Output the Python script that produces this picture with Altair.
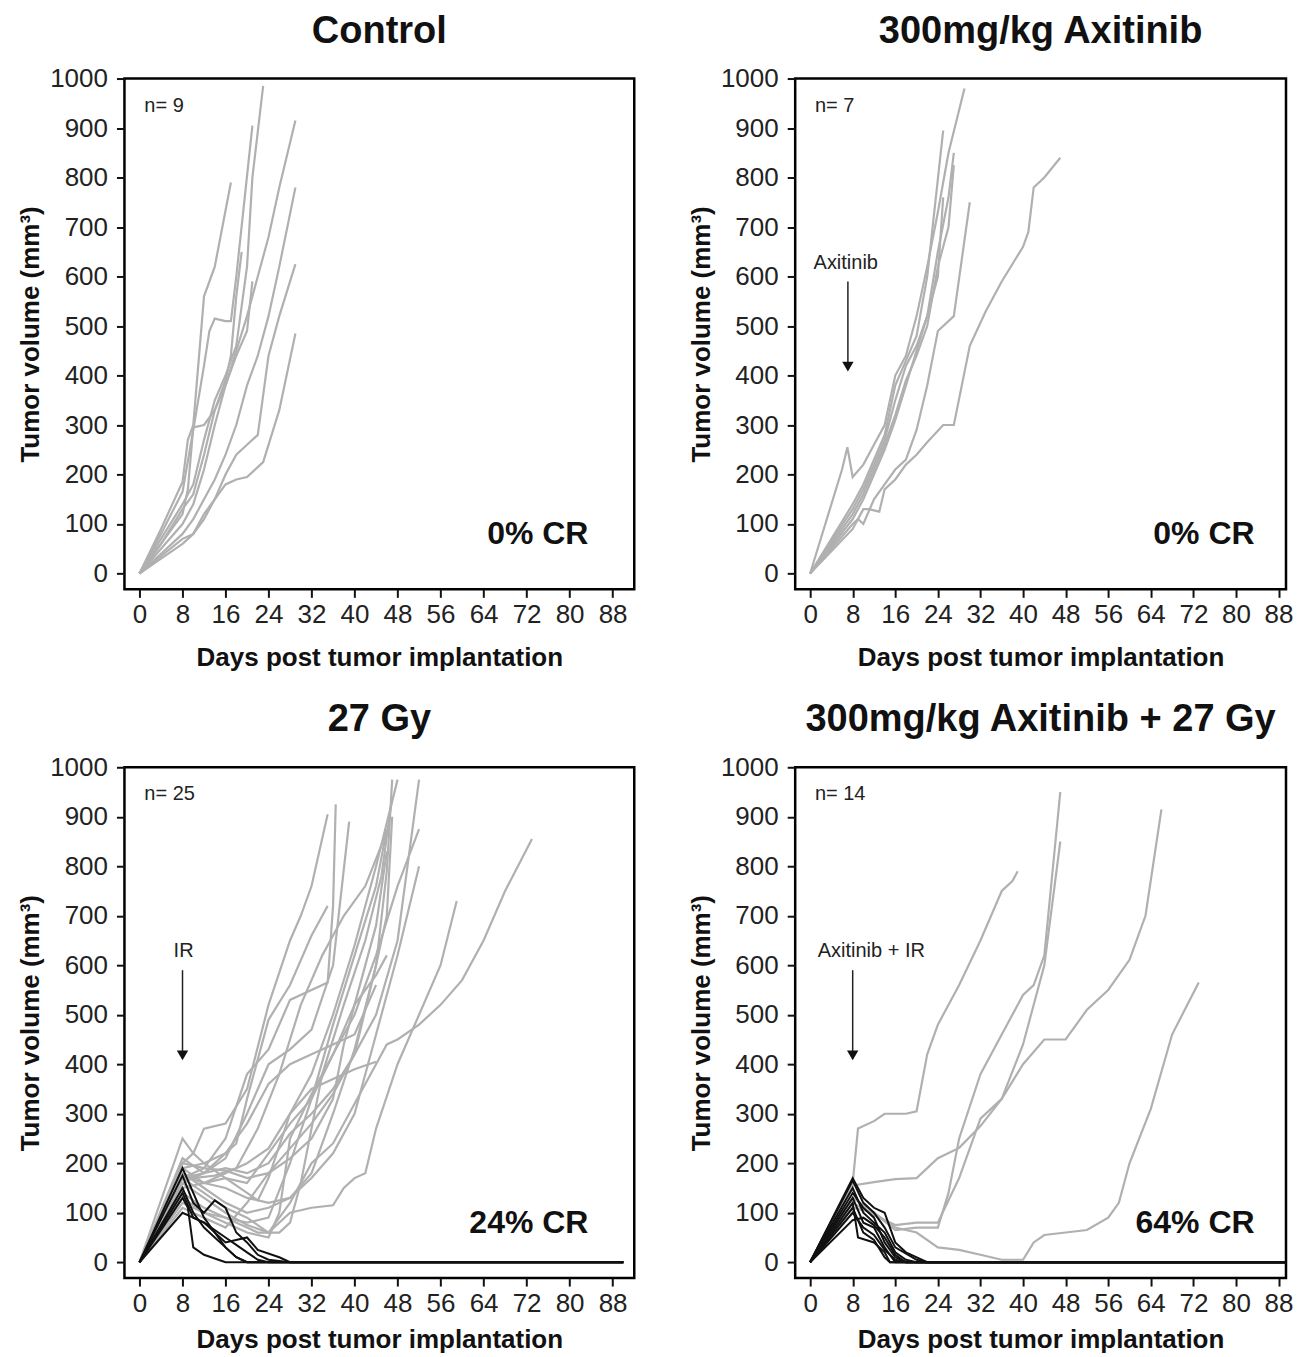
import altair as alt
import pandas as pd

FONT = "Liberation Sans"
GRAY = "#b0b0b0"
BLACK = "#111111"

PANEL_TITLES = ["Control", "300mg/kg Axitinib", "27 Gy", "300mg/kg Axitinib + 27 Gy"]
N_LABELS = ["n= 9", "n= 7", "n= 25", "n= 14"]
CR_LABELS = ["0% CR", "0% CR", "24% CR", "64% CR"]
ARROW_LABELS = [None, "Axitinib", "IR", "Axitinib + IR"]
ARROW_TEXT_DAY = [None, 6.7, 8.2, 11.5]
ARROW_DAY = [None, 7.1, 8.0, 8.0]
X_TICKS = list(range(0, 89, 8))
Y_TICKS = list(range(0, 1001, 100))

# ---------------- Control (all progressing) ----------------
CONTROL_DAYS = [
    [0, 4, 8, 9, 10, 12, 14, 17],
    [0, 4, 8, 10, 12, 13, 14, 16, 17, 18, 21],
    [0, 4, 8, 10, 12, 14, 16, 18, 20, 21, 23],
    [0, 4, 8, 9, 10, 12, 14, 16, 18, 20, 21],
    [0, 4, 8, 10, 12, 14, 16, 18, 20, 22, 24, 26, 29],
    [0, 4, 8, 10, 12, 14, 16, 18, 20, 22, 24, 26, 29],
    [0, 4, 8, 10, 12, 14, 16, 18, 20, 22, 24, 26, 29],
    [0, 4, 8, 10, 12, 14, 16, 18, 20, 22, 23, 26, 29],
    [0, 4, 8, 10, 12, 14, 16, 17, 18, 19],
]
CONTROL_VOL = [
    [0, 90, 185, 270, 300, 560, 620, 790],
    [0, 80, 165, 290, 420, 490, 515, 510, 510, 600, 905],
    [0, 70, 140, 180, 270, 350, 400, 460, 620, 800, 985],
    [0, 60, 120, 170, 295, 300, 330, 380, 440, 490, 590],
    [0, 50, 100, 140, 210, 300, 380, 450, 520, 600, 680, 780, 915],
    [0, 40, 80, 110, 150, 190, 240, 300, 380, 440, 520, 620, 780],
    [0, 35, 70, 80, 120, 150, 200, 240, 260, 280, 440, 520, 625],
    [0, 30, 60, 80, 110, 150, 180, 190, 195, 215, 225, 330, 485],
    [0, 60, 130, 160, 240, 330, 390, 440, 560, 650],
]

# ---------------- 300mg/kg Axitinib (all progressing) ----------------
AXI_DAYS = [
    [0, 6, 7, 8, 10, 12, 14, 16, 18, 20, 22, 24, 26, 29],
    [0, 8, 10, 12, 14, 16, 18, 20, 22, 25],
    [0, 8, 10, 12, 14, 16, 18, 20, 22, 24, 26, 27],
    [0, 8, 10, 12, 14, 16, 18, 20, 22, 24, 26, 27],
    [0, 8, 10, 12, 14, 16, 18, 20, 22, 24, 25],
    [0, 8, 9, 10, 12, 14, 16, 18, 20, 22, 24, 27, 30],
    [0, 8, 10, 11, 13, 14, 16, 18, 20, 22, 25, 27, 30, 33, 36, 40, 41, 42, 44, 47],
]
AXI_VOL = [
    [0, 210, 255, 195, 220, 260, 300, 400, 440, 520, 620, 730, 850, 980],
    [0, 140, 180, 230, 280, 380, 430, 480, 600, 895],
    [0, 130, 170, 220, 270, 350, 420, 460, 520, 650, 760, 850],
    [0, 120, 160, 210, 260, 320, 390, 440, 500, 620, 700, 825],
    [0, 110, 150, 200, 250, 310, 380, 450, 520, 600, 760],
    [0, 100, 110, 100, 150, 180, 210, 230, 290, 380, 490, 520, 750],
    [0, 90, 130, 130, 125, 170, 190, 220, 240, 265, 300, 300, 460, 530, 590, 660, 690, 780, 800, 840],
]

# ---------------- 27 Gy ----------------
GY_CR_DAYS = [
    [0, 8, 10, 12, 14, 16, 18, 20, 90],
    [0, 8, 10, 12, 14, 16, 18, 20, 22, 24, 28, 90],
    [0, 8, 10, 12, 14, 16, 18, 20, 90],
    [0, 8, 10, 12, 16, 18, 20, 22, 24, 90],
    [0, 8, 9, 10, 12, 16, 90],
    [0, 8, 10, 12, 16, 20, 22, 26, 28, 90],
]
GY_CR_VOL = [
    [0, 190, 140, 90, 60, 30, 10, 0, 0],
    [0, 175, 120, 100, 125, 110, 60, 40, 15, 5, 0, 0],
    [0, 150, 100, 70, 50, 30, 10, 0, 0],
    [0, 140, 90, 80, 50, 35, 20, 5, 0, 0],
    [0, 130, 110, 30, 15, 0, 0],
    [0, 100, 90, 80, 40, 50, 25, 10, 0, 0],
]
GY_PD_DAYS = [
    [0, 8, 10, 12, 16, 20, 24, 28, 30, 32, 35],
    [0, 8, 12, 16, 20, 24, 28, 32, 35, 36, 36.5],
    [0, 8, 12, 16, 20, 24, 28, 32, 36, 39],
    [0, 8, 10, 12, 16, 20, 22, 24, 28, 32, 36, 40, 44, 48],
    [0, 8, 12, 16, 20, 24, 28, 32, 36, 40, 44, 48, 52],
    [0, 8, 12, 16, 20, 24, 28, 32, 36, 40, 44, 48, 52],
    [0, 8, 12, 16, 20, 24, 28, 32, 36, 40, 44, 48, 52],
    [0, 8, 12, 16, 20, 24, 28, 32, 36, 38, 40, 42, 44, 48, 52, 56, 59],
    [0, 8, 12, 16, 20, 24, 28, 32, 36, 40, 44, 46, 48, 52, 56, 60, 64, 68, 73],
    [0, 8, 12, 16, 20, 24, 28, 32, 36, 40, 44],
    [0, 8, 12, 16, 20, 24, 28, 32, 36, 40, 44, 46],
    [0, 8, 12, 16, 20, 22, 26, 28, 30, 34, 38, 42, 45, 47],
    [0, 8, 12, 16, 20, 24, 26, 28, 32, 36, 40, 44, 46],
    [0, 8, 12, 16, 20, 24, 28, 32, 36, 40, 44, 46, 47],
    [0, 8, 12, 16, 20, 24, 28, 32, 36, 38, 40, 44, 46],
    [0, 8, 12, 16, 20, 24, 28, 32, 36, 40, 44],
    [0, 8, 12, 16, 18, 20, 24, 28, 32, 34, 35],
    [0, 8, 10, 14, 18, 22, 26, 30, 34, 38, 42, 46],
    [0, 8, 12, 16, 20, 24, 28, 32, 36, 40, 44, 46, 47],
]
GY_PD_VOL = [
    [0, 200, 220, 270, 280, 350, 520, 650, 700, 760, 905],
    [0, 170, 190, 250, 380, 430, 530, 550, 565, 720, 925],
    [0, 160, 180, 210, 300, 400, 430, 470, 600, 890],
    [0, 250, 220, 200, 170, 140, 125, 170, 300, 380, 500, 640, 800, 975],
    [0, 210, 180, 190, 180, 200, 260, 300, 350, 420, 500, 650, 975],
    [0, 190, 160, 170, 160, 220, 280, 330, 420, 500, 620, 760, 875],
    [0, 180, 150, 120, 100, 110, 130, 170, 220, 300, 460, 620, 800],
    [0, 170, 140, 110, 90, 60, 100, 110, 115, 150, 170, 180, 270, 400, 500, 600, 730],
    [0, 160, 130, 100, 75, 60, 120, 200, 240, 320, 400, 440, 450, 480, 520, 570, 650, 750, 855],
    [0, 150, 160, 180, 200, 230, 300, 350, 370, 390, 405],
    [0, 140, 110, 90, 80, 90, 200, 330, 480, 620, 760, 875],
    [0, 130, 100, 90, 70, 60, 60, 80, 160, 380, 520, 650, 780, 940],
    [0, 120, 100, 80, 60, 50, 100, 250, 340, 420, 520, 680, 830],
    [0, 110, 90, 70, 120, 180, 230, 280, 340, 420, 600, 700, 900],
    [0, 200, 190, 185, 170, 180, 210, 250, 330, 440, 520, 580, 620],
    [0, 170, 180, 220, 280, 360, 400, 420, 440, 460, 560],
    [0, 190, 200, 220, 240, 330, 490, 560, 660, 700, 720],
    [0, 180, 170, 175, 190, 270, 380, 520, 620, 700, 760, 870],
    [0, 175, 160, 150, 130, 120, 130, 180, 300, 430, 600, 790, 975],
]

# ---------------- 300mg/kg Axitinib + 27 Gy ----------------
COMBO_CR_DAYS = [
    [0, 8, 10, 12, 14, 16, 18, 22, 90],
    [0, 8, 10, 12, 14, 16, 20, 22, 90],
    [0, 8, 10, 12, 14, 16, 18, 20, 90],
    [0, 8, 10, 12, 14, 16, 18, 90],
    [0, 8, 10, 12, 14, 16, 90],
    [0, 8, 9, 12, 14, 15, 90],
    [0, 8, 10, 12, 14, 15, 90],
    [0, 8, 10, 12, 14, 16, 18, 90],
    [0, 8, 10, 12, 14, 16, 18, 90],
]
COMBO_CR_VOL = [
    [0, 170, 130, 110, 100, 40, 20, 0, 0],
    [0, 165, 120, 100, 70, 30, 5, 0, 0],
    [0, 150, 100, 80, 60, 20, 5, 0, 0],
    [0, 140, 110, 90, 40, 10, 0, 0],
    [0, 130, 80, 70, 30, 0, 0],
    [0, 120, 50, 40, 20, 0, 0],
    [0, 110, 60, 45, 10, 0, 0],
    [0, 100, 70, 55, 25, 5, 0, 0],
    [0, 85, 90, 75, 50, 15, 0, 0],
]
COMBO_PD_DAYS = [
    [0, 8, 9, 12, 14, 18, 20, 22, 24, 28, 32, 34, 36, 38, 39],
    [0, 8, 12, 16, 20, 24, 28, 32, 36, 40, 44, 48, 52, 56, 60, 63, 66],
    [0, 8, 12, 16, 20, 24, 26, 28, 32, 36, 40, 42, 44, 47],
    [0, 8, 12, 16, 20, 24, 28, 32, 36, 40, 44, 47],
    [0, 8, 12, 16, 20, 24, 28, 32, 36, 40, 42, 44, 48, 52, 56, 58, 60, 64, 68, 73],
]
COMBO_PD_VOL = [
    [0, 160, 270, 285, 300, 300, 305, 420, 480, 560, 650, 700, 750, 770, 790],
    [0, 155, 162, 168, 170, 210, 231, 275, 330, 400, 450, 450, 510, 550, 611, 700, 915],
    [0, 130, 100, 65, 70, 70, 140, 250, 380, 460, 540, 560, 620, 950],
    [0, 120, 95, 75, 80, 80, 170, 290, 330, 440, 600, 850],
    [0, 110, 100, 70, 60, 30, 25, 15, 5, 5, 40, 55, 60, 65, 90, 120, 200, 310, 460, 565],
]

PANELS = [
    (CONTROL_DAYS, CONTROL_VOL, [], []),
    (AXI_DAYS, AXI_VOL, [], []),
    (GY_PD_DAYS, GY_PD_VOL, GY_CR_DAYS, GY_CR_VOL),
    (COMBO_PD_DAYS, COMBO_PD_VOL, COMBO_CR_DAYS, COMBO_CR_VOL),
]


def to_frame(days_list, vol_list):
    rows = []
    for i, (ds, vs) in enumerate(zip(days_list, vol_list)):
        for j, (d, v) in enumerate(zip(ds, vs)):
            rows.append({"mouse": i, "seq": j, "day": d, "vol": v})
    return pd.DataFrame(rows, columns=["mouse", "seq", "day", "vol"])


def panel(idx, width, xmax, xtitle_pad):
    def xenc():
        return alt.X(
            "day:Q",
            scale=alt.Scale(domain=[-2.8, xmax], nice=False, zero=False),
            axis=alt.Axis(
                values=X_TICKS,
                title="Days post tumor implantation",
                labelFlush=False,
                titlePadding=xtitle_pad,
            ),
        )

    def yenc():
        return alt.Y(
            "vol:Q",
            scale=alt.Scale(domain=[-32, 1000], nice=False, zero=False),
            axis=alt.Axis(values=Y_TICKS, title="Tumor volume (mm³)", format="d", labelFlush=False),
        )

    pd_days, pd_vol, cr_days, cr_vol = PANELS[idx]
    layers = []
    gray = to_frame(pd_days, pd_vol)
    layers.append(
        alt.Chart(gray).mark_line(color=GRAY, strokeWidth=2.2, clip=True).encode(
            x=xenc(), y=yenc(), detail="mouse:N", order="seq:Q"
        )
    )
    if cr_days:
        black = to_frame(cr_days, cr_vol)
        layers.append(
            alt.Chart(black).mark_line(color=BLACK, strokeWidth=2, clip=True).encode(
                x=xenc(), y=yenc(), detail="mouse:N", order="seq:Q"
            )
        )
    ntxt = pd.DataFrame({"day": [0.9], "vol": [945], "label": [N_LABELS[idx]]})
    layers.append(
        alt.Chart(ntxt).mark_text(align="left", baseline="middle", fontSize=20, font=FONT, color="#222").encode(
            x=xenc(), y=yenc(), text="label:N"
        )
    )
    crtxt = pd.DataFrame({"day": [83.5], "vol": [80], "label": [CR_LABELS[idx]]})
    layers.append(
        alt.Chart(crtxt).mark_text(align="right", baseline="middle", fontSize=32, fontWeight="bold", font=FONT, color="#111").encode(
            x=xenc(), y=yenc(), text="label:N"
        )
    )
    if ARROW_LABELS[idx]:
        atxt = pd.DataFrame({"day": [ARROW_TEXT_DAY[idx]], "vol": [628], "label": [ARROW_LABELS[idx]]})
        layers.append(
            alt.Chart(atxt).mark_text(align="center", baseline="middle", fontSize=20, font=FONT, color="#222").encode(
                x=xenc(), y=yenc(), text="label:N"
            )
        )
        arr = pd.DataFrame({"day": [ARROW_DAY[idx]], "vol": [590], "vol2": [425]})
        layers.append(
            alt.Chart(arr).mark_rule(color="#222", strokeWidth=1.5).encode(
                x=xenc(), y=yenc(), y2="vol2:Q"
            )
        )
        head = pd.DataFrame({"day": [ARROW_DAY[idx]], "vol": [418]})
        layers.append(
            alt.Chart(head).mark_point(shape="triangle-down", filled=True, size=130, color="#111", opacity=1).encode(
                x=xenc(), y=yenc()
            )
        )
    return alt.layer(*layers).properties(
        width=width, height=511, title=alt.TitleParams(PANEL_TITLES[idx])
    )


LEFT_W, LEFT_XMAX = 510, 92.03
RIGHT_W, RIGHT_XMAX = 491, 89.4

top = alt.hconcat(panel(0, LEFT_W, LEFT_XMAX, 17), panel(1, RIGHT_W, RIGHT_XMAX, 17), spacing=50)
bottom = alt.hconcat(panel(2, LEFT_W, LEFT_XMAX, 10), panel(3, RIGHT_W, RIGHT_XMAX, 10), spacing=50)
chart = alt.vconcat(top, bottom, spacing=27).properties(
    padding={"left": 7.5, "top": 2.3, "right": 0, "bottom": 0}
)

chart = (
    chart.configure_view(stroke="black", strokeWidth=2.5)
    .configure_axis(
        labelFont=FONT,
        titleFont=FONT,
        labelFontSize=26,
        titleFontSize=26,
        titleFontWeight="bold",
        tickSize=8,
        tickWidth=2,
        tickColor="#111",
        domain=False,
        grid=False,
        labelColor="#222",
        titleColor="#111",
    )
    .configure_axisX(labelPadding=4)
    .configure_axisY(labelPadding=9, titlePadding=6)
    .configure_title(
        font=FONT, fontSize=38, fontWeight="bold", anchor="middle", frame="group", offset=15, color="#111"
    )
)

chart.save("out.html", embed_options={"renderer": "svg", "actions": False})
